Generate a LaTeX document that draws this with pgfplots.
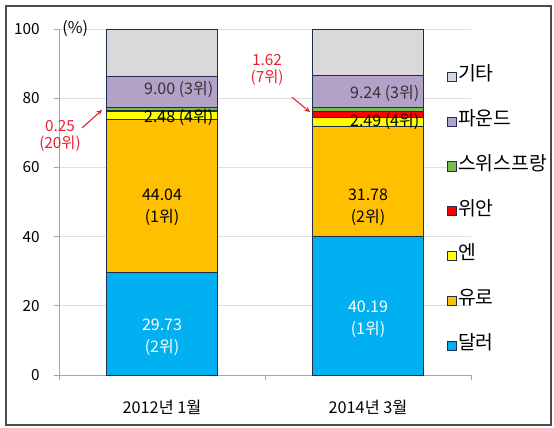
\documentclass[border=0pt]{standalone}
\usepackage{pgfplots}
\pgfplotsset{compat=1.18}
\usepackage{fontspec}
\setmainfont{Noto Sans CJK KR}
\definecolor{cusd}{RGB}{0,176,240}
\definecolor{ceur}{RGB}{255,192,0}
\definecolor{cjpy}{RGB}{255,255,0}
\definecolor{ccny}{RGB}{255,0,0}
\definecolor{cchf}{RGB}{120,190,70}
\definecolor{cgbp}{RGB}{179,162,199}
\definecolor{cetc}{RGB}{217,217,217}
\definecolor{cedge}{RGB}{31,45,80}
\definecolor{cann}{RGB}{228,35,50}
\pgfplotsset{
  bs/.style={fill=#1, draw=cedge, line width=0.5pt,
    legend image code/.code={\draw[fill=#1, draw=cedge, line width=0.4pt] (0pt,-3.4pt) rectangle (6.8pt,3.4pt);}},
}
\begin{document}
\begin{tikzpicture}
\path[use as bounding box] (0,0) rectangle (415.5pt,321pt);
\fill[white] (0,0) rectangle (415.5pt,321pt);
\draw[gray!60!black, line width=0.8pt] (4.5pt,2.25pt) rectangle (413.25pt,316.5pt);
\begin{axis}[
  at={(44.25pt,39.75pt)}, anchor=south west,
  scale only axis, width=309pt, height=259.5pt,
  clip=false,
  ybar stacked, bar width=83.25pt,
  xmin=-0.5, xmax=1.5, ymin=0, ymax=100,
  axis x line*=bottom, axis y line*=left,
  axis line style={draw=gray!70, line width=0.6pt},
  tick align=outside, major tick length=4pt,
  tick style={draw=gray!70, line width=0.6pt},
  xtick={-0.5,0.5,1.5}, xticklabels={},
  extra x ticks={0,1}, extra x tick labels={2012년 1월,2014년 3월},
  extra x tick style={major tick length=0pt, xticklabel style={yshift=-15.5pt, font=\fontsize{12.2}{13}\selectfont}},
  ytick={0,20,...,100},
  ymajorgrids, grid style={gray!25, line width=0.6pt},
  /pgf/number format/assume math mode=true,
  tick label style={font=\fontsize{11.5}{13}\selectfont},
  legend cell align=left,
  reverse legend,
  legend style={at={(0.9417,0.89)}, anchor=north west, draw=none, fill=none,
    inner sep=0pt, row sep=19.6pt, font=\fontsize{14.5}{15}\selectfont,
    nodes={inner sep=1pt, text height=9pt, text depth=3pt}},
  every y tick label/.append style={xshift=-7pt},
]
\addplot[bs=cusd] coordinates {(0,29.73) (1,40.19)};
\addplot[bs=ceur] coordinates {(0,44.04) (1,31.78)};
\addplot[bs=cjpy] coordinates {(0,2.48) (1,2.49)};
\addplot[bs=ccny] coordinates {(0,0.25) (1,1.62)};
\addplot[bs=cchf] coordinates {(0,0.9) (1,1.2)};
\addplot[bs=cgbp] coordinates {(0,9.00) (1,9.24)};
\addplot[bs=cetc] coordinates {(0,13.6) (1,13.48)};
\legend{달러,유로,엔,위안,스위스프랑,파운드,기타}
\coordinate (lusd1) at (axis cs:0,11.0);
\coordinate (lusd2) at (axis cs:1,16.0);
\coordinate (leur1) at (axis cs:0,48.5);
\coordinate (leur2) at (axis cs:1,48.5);
\coordinate (lgbp1) at (axis cs:0.25,82.4);
\coordinate (lgbp2) at (axis cs:1.25,81.5);
\coordinate (ljpy1) at (axis cs:0.25,74.3);
\coordinate (ljpy2) at (axis cs:1.25,73.4);
\coordinate (lcny1) at (axis cs:-0.495,69);
\coordinate (lcny2) at (axis cs:0.51,88.2);
\coordinate (a1s) at (axis cs:-0.388,71.4);
\coordinate (a1e) at (axis cs:-0.291,76.6);
\coordinate (a2s) at (axis cs:0.631,80.3);
\coordinate (a2e) at (axis cs:0.718,76.0);
\coordinate (lpct) at (axis cs:-0.485,100);
\end{axis}
\node[white, align=center, font=\fontsize{12}{16.5}\selectfont] at (lusd1) {29.73\\(2위)};
\node[white, align=center, font=\fontsize{12}{16.5}\selectfont] at (lusd2) {40.19\\(1위)};
\node[black, align=center, font=\fontsize{12}{16.5}\selectfont] at (leur1) {44.04\\(1위)};
\node[black, align=center, font=\fontsize{12}{16.5}\selectfont] at (leur2) {31.78\\(2위)};
\node[anchor=east, inner sep=0pt, font=\fontsize{12}{14}\selectfont, text=black!80] at (lgbp1) {9.00 (3위)};
\node[anchor=east, inner sep=0pt, font=\fontsize{12}{14}\selectfont, text=black!80] at (lgbp2) {9.24 (3위)};
\node[anchor=east, inner sep=0pt, font=\fontsize{12}{14}\selectfont] at (ljpy1) {2.48 (4위)};
\node[anchor=east, inner sep=0pt, font=\fontsize{12}{14}\selectfont] at (ljpy2) {2.49 (4위)};
\node[cann, align=center, font=\fontsize{11.5}{13}\selectfont] at (lcny1) {0.25\\(20위)};
\node[cann, align=center, font=\fontsize{11.5}{13}\selectfont] at (lcny2) {1.62\\(7위)};
\draw[cann, line width=0.8pt, -stealth] (a1s) -- (a1e);
\draw[cann, line width=0.8pt, -stealth] (a2s) -- (a2e);
\node[anchor=west, inner sep=0pt, font=\fontsize{12}{14}\selectfont] at (lpct) {(\%)};
\end{tikzpicture}
\end{document}
